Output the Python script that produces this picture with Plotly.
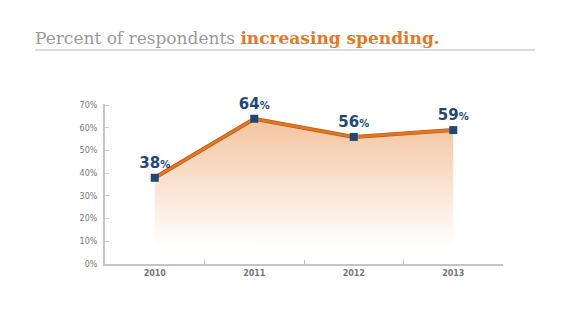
import plotly.graph_objects as go

years = ["2010", "2011", "2012", "2013"]
values = [38, 64, 56, 59]
y_ticks = [0, 10, 20, 30, 40, 50, 60, 70]
y_tick_labels = [f"{v}%" for v in y_ticks]

navy = "#1d4877"
orange = "#e5761f"

labels = [f"<b>{v}</b><span style='font-size:10px'><b>%</b></span>" for v in values]

fig = go.Figure()
# gradient fill
fig.add_trace(go.Scatter(
    x=years, y=values, mode="none", fill="tozeroy",
    fillgradient=dict(type="vertical", start=0, stop=64,
                      colorscale=[[0, "rgba(255,255,255,1)"], [0.12, "rgba(255,255,255,1)"],
                                  [1, "rgb(244,196,158)"]]),
    hoverinfo="skip", showlegend=False))
# dark line edge
fig.add_trace(go.Scatter(x=years, y=values, mode="lines",
                         line=dict(color="#b95718", width=4), showlegend=False, hoverinfo="skip"))
# main line + markers + labels
fig.add_trace(go.Scatter(
    x=years, y=values, mode="lines+markers+text",
    line=dict(color=orange, width=2.6),
    marker=dict(symbol="square", size=8, color=navy),
    text=labels, textposition="top center", cliponaxis=False,
    textfont=dict(family="DejaVu Sans", size=15, color=navy),
    showlegend=False))

fig.update_layout(
    width=580, height=325,
    margin=dict(l=105, r=77, t=104, b=61),
    paper_bgcolor="white", plot_bgcolor="white",
    title=dict(
        text="<span style='color:#9a9a9a'>Percent of respondents </span>"
             "<span style='color:#e8781e'><b>increasing spending.</b></span>",
        x=35 / 580, xanchor="left", y=1 - 38 / 325, yanchor="middle",
        font=dict(family="DejaVu Serif", size=17)),
    xaxis=dict(type="category", showgrid=False, showline=True, linecolor="#c4c4c4", linewidth=2,
               ticks="inside", tickson="boundaries", ticklen=4, tickcolor="#c4c4c4",
               tickfont=dict(family="DejaVu Sans", size=8, color="#777", weight="bold"),
               range=[-0.5, 3.5], fixedrange=True),
    yaxis=dict(range=[0, 70.5], tickvals=y_ticks, ticktext=y_tick_labels, showgrid=False,
               showline=True, linecolor="#c4c4c4", linewidth=2, zeroline=False,
               ticks="inside", ticklen=4, tickcolor="#d0d0d0",
               tickfont=dict(family="DejaVu Sans", size=8, color="#777"),
               ticklabelstandoff=4),
    shapes=[dict(type="line", xref="paper", yref="paper",
                 x0=(35 - 105) / 398, x1=(535 - 105) / 398,
                 y0=(264 - 50) / 160, y1=(264 - 50) / 160,
                 line=dict(color="#b5b5b5", width=1))],
)

fig.write_html("out.html")
